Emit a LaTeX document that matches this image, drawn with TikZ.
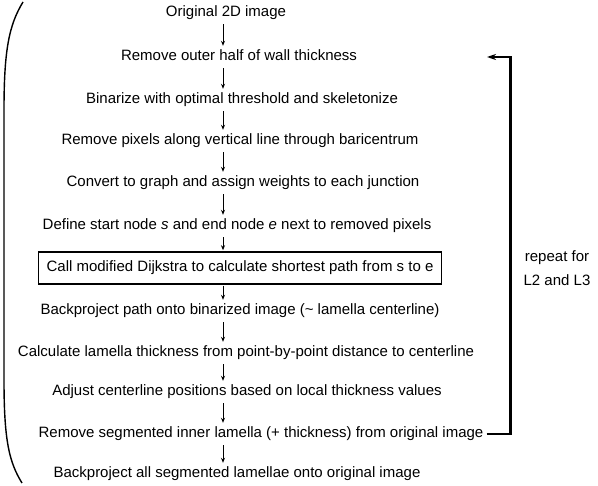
\documentclass[tikz,border=0pt]{standalone}
\usepackage{fontspec}
\setmainfont{Liberation Sans}
\usetikzlibrary{arrows.meta}

\tikzset{
  stage/.style={font=\fontsize{15}{18}\selectfont, inner sep=3pt, text height=11pt, text depth=3pt},
  flow/.style={-{Stealth[length=5pt,width=4pt]}, line width=0.8pt, shorten <=1pt, shorten >=1pt},
  loopback/.style={-{Stealth[length=9pt,width=6pt]}, line width=2.2pt},
}

\begin{document}
\begin{tikzpicture}[x=1pt,y=-1pt]
			\useasboundingbox (0,0) rectangle (598,486);
			\coordinate (ax) at (223,0);
			% steps
			\node[stage] (orig)   at (226,13)  {Original 2D image};
			\node[stage] (outer)  at (239,57)  {Remove outer half of wall thickness};
			\node[stage] (binar)  at (242,100) {Binarize with optimal threshold and skeletonize};
			\node[stage] (pixels) at (240,141) {Remove pixels along vertical line through baricentrum};
			\node[stage] (graph)  at (243,183) {Convert to graph and assign weights to each junction};
			\node[stage] (ends)   at (237,226) {Define start node \textit{s} and end node \textit{e} next to removed pixels};
			\node[stage, draw, line width=1.5pt, inner xsep=8pt, inner ysep=9pt] (dijk) at (240,268) {Call modified Dijkstra to calculate shortest path from s to e};
			\node[stage] (back)   at (240,311) {Backproject path onto binarized image (\textasciitilde{} lamella centerline)};
			\node[stage] (thick)  at (246,353) {Calculate lamella thickness from point-by-point distance to centerline};
			\node[stage] (adjust) at (247,392) {Adjust centerline positions based on local thickness values};
			\node[stage] (remseg) at (261,434) {Remove segmented inner lamella (+ thickness) from original image};
			\node[stage] (all)    at (237,474) {Backproject all segmented lamellae onto original image};
			% arrows
			\foreach \a/\b in {orig/outer,outer/binar,binar/pixels,pixels/graph,graph/ends,ends/dijk,dijk/back,back/thick,thick/adjust,adjust/remseg,remseg/all}
				\draw[flow] (\a.south -| ax) -- (\b.north -| ax);
			% repeat loop
			\coordinate (looptip) at (487,57);
			\draw[loopback] (remseg.east) -- ++(24,0) |- (looptip);
			\node[align=center, font=\fontsize{15}{24}\selectfont] (rep) at (557,268) {repeat for\\L2 and L3};
			% left bracket
			\draw[line width=1.4pt] (23,2) .. controls (9,25) and (4,50) .. (4,110) -- (4,380) .. controls (4,440) and (9,462) .. (22,483);
		\end{tikzpicture}
\end{document}
